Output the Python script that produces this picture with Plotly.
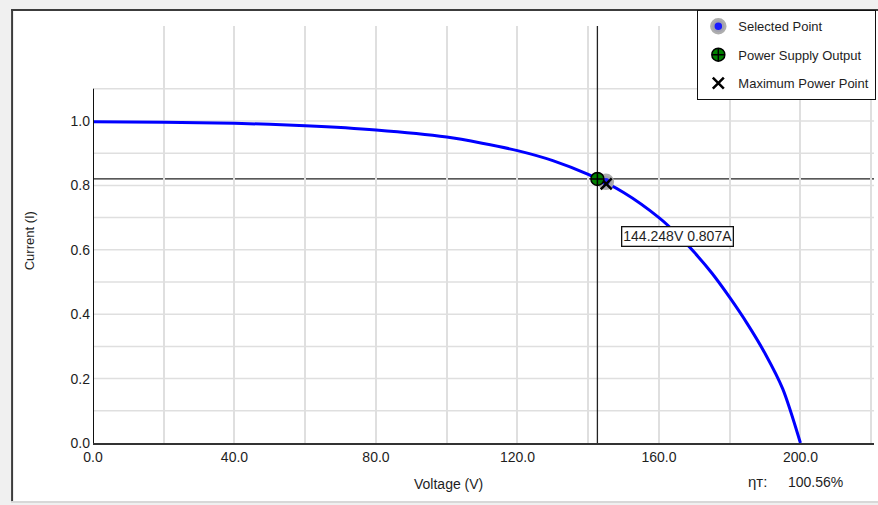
import plotly.graph_objects as go

# ---- data ----
voltage = [0, 20, 40, 60, 80, 100, 110, 120, 130, 140, 150, 160, 165, 170, 175,
           180, 185, 190, 195, 200]
current = [0.998, 0.996, 0.993, 0.985, 0.972, 0.950, 0.931, 0.908, 0.877, 0.834, 0.778,
           0.700, 0.650, 0.592, 0.527, 0.452, 0.370, 0.278, 0.168, 0.0]

selected_v, selected_i = [145.0], [0.811]
supply_v, supply_i = [142.6], [0.820]
mpp_v, mpp_i = [145.1], [0.805]
label_v, label_i = 144.248, 0.807

x_tickvals = [0, 20, 40, 60, 80, 100, 120, 140, 160, 180, 200, 220]
x_ticktext = ["0.0", "", "40.0", "", "80.0", "", "120.0", "", "160.0", "", "200.0", ""]
y_tickvals = [0.0, 0.2, 0.4, 0.6, 0.8, 1.0]
y_ticktext = ["0.0", "0.2", "0.4", "0.6", "0.8", "1.0"]
y_grid = [0.1, 0.2, 0.3, 0.4, 0.5, 0.6, 0.7, 0.8, 0.9, 1.0, 1.1]
efficiency = "100.56%"

FONT = "Liberation Sans, Arial, sans-serif"
TXT = "#1e1e1e"
X_MAX = 220.8
Y_MAX = 1.295
Y_AXIS_TOP = 1.1

fig = go.Figure()

fig.add_trace(go.Scatter(x=voltage, y=current, mode="lines",
                         line=dict(color="#0000ff", width=3, shape="spline", smoothing=0.8),
                         showlegend=False, hoverinfo="skip"))

fig.add_trace(go.Scatter(x=selected_v, y=selected_i, mode="markers", name="Selected Point",
                         legendgroup="a", legendrank=1,
                         marker=dict(symbol="circle", size=12, color="#1a1aff",
                                     line=dict(color="rgba(170,170,170,0.95)", width=4.5))))
fig.add_trace(go.Scatter(x=mpp_v, y=mpp_i, mode="markers", name="Maximum Power Point",
                         legendgroup="c", legendrank=3,
                         marker=dict(symbol="x-thin", size=11, color="black",
                                     line=dict(color="black", width=2.5))))
fig.add_trace(go.Scatter(x=supply_v, y=supply_i, mode="markers", name="Power Supply Output",
                         legendgroup="b", legendrank=2,
                         marker=dict(symbol="circle-cross", size=13, color="#008000",
                                     line=dict(color="black", width=1.5))))

shapes = []
# outer frame panel
shapes.append(dict(type="rect", xref="paper", yref="paper", x0=-0.1049, x1=1.01, y0=-0.1415, y1=1.0396,
                   fillcolor="white", line=dict(width=0), layer="below"))
shapes.append(dict(type="line", xref="paper", yref="paper", x0=-0.1036, x1=-0.1036, y0=-0.1415, y1=1.0396,
                   line=dict(color="#3c3c3c", width=2), layer="below"))
shapes.append(dict(type="line", xref="paper", yref="paper", x0=-0.1049, x1=1.01, y0=1.0384, y1=1.0384,
                   line=dict(color="#3c3c3c", width=2), layer="below"))
shapes.append(dict(type="line", xref="paper", yref="paper", x0=-0.1049, x1=1.01, y0=-0.1415, y1=-0.1415,
                   line=dict(color="#d8d8d8", width=2), layer="below"))
# horizontal grid lines (only up to axis top)
for g in y_grid:
    shapes.append(dict(type="line", xref="x", yref="y", x0=0, x1=X_MAX, y0=g, y1=g,
                       line=dict(color="#dfdfdf", width=1.5), layer="below"))
# y axis line
shapes.append(dict(type="line", xref="x", yref="y", x0=0, x1=0, y0=0, y1=Y_AXIS_TOP,
                   line=dict(color="#111", width=2), layer="above"))
# crosshair
shapes.append(dict(type="line", xref="x", yref="y", x0=supply_v[0], x1=supply_v[0], y0=0, y1=Y_MAX,
                   line=dict(color="#222", width=1.3), layer="below"))
shapes.append(dict(type="line", xref="x", yref="y", x0=0, x1=X_MAX, y0=supply_i[0], y1=supply_i[0],
                   line=dict(color="#222", width=1.3), layer="below"))

annotations = [
    dict(x=label_v, y=label_i, xref="x", yref="y", text=f"{label_v:.3f}V {label_i:.3f}A",
         showarrow=False, xanchor="left", yanchor="top", xshift=18, yshift=-43,
         font=dict(family=FONT, size=14, color=TXT), bgcolor="white", bordercolor="#111",
         borderwidth=1.3, borderpad=1),
    dict(x=0.455, y=-0.098, xref="paper", yref="paper", text="Voltage (V)", showarrow=False,
         font=dict(family=FONT, size=14, color=TXT), xanchor="center", yanchor="middle"),
    dict(x=-0.082, y=0.486, xref="paper", yref="paper", text="Current (I)", showarrow=False,
         textangle=-90, font=dict(family=FONT, size=13, color=TXT), xanchor="center", yanchor="middle"),
    dict(x=0.851, y=-0.093, xref="paper", yref="paper", text="ηт:", showarrow=False,
         font=dict(family=FONT, size=15, color=TXT), xanchor="center", yanchor="middle"),
    dict(x=0.9254, y=-0.093, xref="paper", yref="paper", text=efficiency, showarrow=False,
         font=dict(family=FONT, size=14, color=TXT), xanchor="center", yanchor="middle"),
]

fig.update_layout(
    width=878, height=505,
    margin=dict(l=93, r=3, t=26, b=62),
    paper_bgcolor="#f0f0f0",
    plot_bgcolor="white",
    shapes=shapes,
    annotations=annotations,
    showlegend=True,
    legend=dict(x=0.7724, y=1.0384, xanchor="left", yanchor="top",
                bgcolor="white", bordercolor="#111", borderwidth=1.3,
                font=dict(family=FONT, size=13, color=TXT),
                traceorder="grouped", tracegroupgap=8.5, itemsizing="trace"),
    xaxis=dict(range=[0, X_MAX], tickmode="array", tickvals=x_tickvals, ticktext=x_ticktext,
               showgrid=True, gridcolor="#dfdfdf", gridwidth=1.5, zeroline=False,
               showline=True, linecolor="#333", linewidth=2, ticks="",
               tickfont=dict(family=FONT, size=14, color=TXT)),
    yaxis=dict(range=[0, Y_MAX], tickmode="array", tickvals=y_tickvals, ticktext=y_ticktext,
               showgrid=False, zeroline=False, showline=False, ticks="",
               ticklabelstandoff=2,
               tickfont=dict(family=FONT, size=14, color=TXT)),
)

fig.write_html("out.html")
